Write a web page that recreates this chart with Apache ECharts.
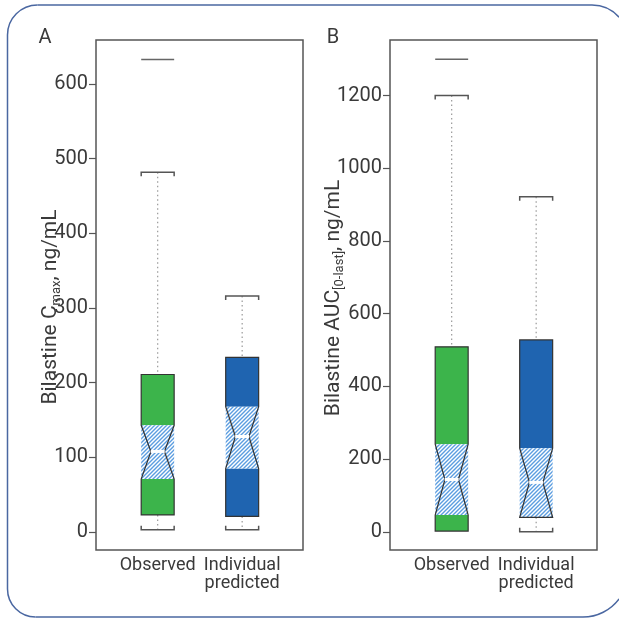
<!DOCTYPE html>
<html>
<head>
<meta charset="utf-8">
<script src="https://cdn.jsdelivr.net/npm/echarts@6/dist/echarts.min.js"></script>
<style>
html, body { margin: 0; padding: 0; background: #fff; overflow: hidden; }
#chart { width: 619px; height: 619px; }
</style>
</head>
<body>
<div id="chart"></div>
<script>
// groups on the x axis (positions 1 and 2)
var groups = ['Observed', 'Individual\npredicted'];
var groupPos = [1, 2];

// box stats: [low whisker, Q1, notch low, median, notch high, Q3, high whisker]
var cmaxObserved  = [3, 23, 71, 108, 143, 211, 482];
var cmaxPredicted = [3, 21, 85, 128, 168, 234, 316];
var cmaxOutliers  = [633];          // observed group only
var cmaxTicks     = [0, 100, 200, 300, 400, 500, 600];

var aucObserved   = [0, 2, 46, 144, 241, 509, 1200];
var aucPredicted  = [0, 40, 40, 136, 230, 528, 922];
var aucOutliers   = [1300];         // observed group only
var aucTicks      = [0, 200, 400, 600, 800, 1000, 1200];

var boxColors = ['#3cb44b', '#1f64b0'];
var textFont = 'Roboto, "DejaVu Sans Condensed", sans-serif';
var textColor = '#3a3a3a';
var frameColor = '#4a67a1';

// diagonal hatch for the notch region
var hatch = document.createElement('canvas');
hatch.width = 4; hatch.height = 4;
(function () {
    var c = hatch.getContext('2d');
    c.fillStyle = '#ffffff';
    c.fillRect(0, 0, 4, 4);
    c.strokeStyle = '#5b9de0';
    c.lineWidth = 1.4;
    c.beginPath();
    c.moveTo(-1, 5); c.lineTo(5, -1);
    c.moveTo(-1, 1); c.lineTo(1, -1);
    c.moveTo(3, 5); c.lineTo(5, 3);
    c.stroke();
})();

function boxRows(a, b) {
    return [[groupPos[0]].concat(a), [groupPos[1]].concat(b)];
}

function renderBox(params, api) {
    var x = api.value(0);
    var v = [];
    for (var i = 1; i <= 7; i++) v.push(api.value(i));
    var cx = api.coord([x, 0])[0];
    var half = api.size([0.39, 0])[0] / 2;
    var ind = api.size([0.115, 0])[0];
    var y = function (val) { return api.coord([x, val])[1]; };
    var L = cx - half, R = cx + half;
    var yLow = y(v[0]), yQ1 = y(v[1]), yNL = y(v[2]), yMed = y(v[3]),
        yNH = y(v[4]), yQ3 = y(v[5]), yHigh = y(v[6]);
    var col = boxColors[params.dataIndex];
    var kids = [];
    var dotted = { stroke: '#999', lineWidth: 1.2, lineDash: [1.5, 3] };
    var capStyle = { stroke: '#555', lineWidth: 1.5, fill: null };

    // upper whisker + cap
    kids.push({ type: 'line', shape: { x1: cx, y1: yHigh, x2: cx, y2: yQ3 }, style: dotted });
    kids.push({ type: 'polyline', shape: { points: [[L, yHigh + 4], [L, yHigh], [R, yHigh], [R, yHigh + 4]] }, style: capStyle });
    // lower whisker + cap
    if (yLow - yQ1 > 2) {
        kids.push({ type: 'line', shape: { x1: cx, y1: yQ1, x2: cx, y2: yLow }, style: dotted });
        kids.push({ type: 'polyline', shape: { points: [[L, yLow - 4], [L, yLow], [R, yLow], [R, yLow - 4]] }, style: capStyle });
    }
    // solid parts of box
    kids.push({ type: 'rect', shape: { x: L, y: yQ3, width: R - L, height: yNH - yQ3 }, style: { fill: col } });
    if (yQ1 - yNL > 0.5) {
        kids.push({ type: 'rect', shape: { x: L, y: yNL, width: R - L, height: yQ1 - yNL }, style: { fill: col } });
    }
    // hatched notch region
    kids.push({ type: 'rect', shape: { x: L, y: yNH, width: R - L, height: yNL - yNH },
        style: { fill: { image: hatch, repeat: 'repeat' } } });
    // notched outline
    kids.push({ type: 'polygon', shape: { points: [
        [L, yQ3], [R, yQ3], [R, yNH], [R - ind, yMed], [R, yNL], [R, yQ1],
        [L, yQ1], [L, yNL], [L + ind, yMed], [L, yNH]
    ] }, style: { fill: null, stroke: '#333', lineWidth: 1.2 } });
    // median
    kids.push({ type: 'line', shape: { x1: cx - 7, y1: yMed, x2: cx + 7, y2: yMed },
        style: { stroke: '#fff', lineWidth: 3 } });
    return { type: 'group', children: kids };
}

function renderOutlier(params, api) {
    var x = api.value(0);
    var p = api.coord([x, api.value(1)]);
    var half = api.size([0.39, 0])[0] / 2;
    return { type: 'line', shape: { x1: p[0] - half, y1: p[1], x2: p[0] + half, y2: p[1] },
        style: { stroke: '#666', lineWidth: 1.5 } };
}

function xAxisFor(gi) {
    return {
        type: 'value', gridIndex: gi, min: 0.27, max: 2.72,
        axisLine: { show: false }, axisTick: { show: false }, splitLine: { show: false },
        axisLabel: {
            customValues: groupPos, margin: 6, fontSize: 18, lineHeight: 18,
            color: textColor, fontFamily: textFont,
            formatter: function (val) { return groups[groupPos.indexOf(val)]; }
        }
    };
}

function yAxisFor(gi, min, max, ticks) {
    return {
        type: 'value', gridIndex: gi, min: min, max: max,
        axisLine: { show: false }, splitLine: { show: false },
        axisTick: { show: true, customValues: ticks, length: 7, lineStyle: { color: '#555', width: 1.2 } },
        axisLabel: { customValues: ticks, margin: 8, fontSize: 20, color: textColor, fontFamily: textFont,
            formatter: function (val) { return String(val); } }
    };
}

// rounded outer frame: lines + corner arcs; the right side is cut off by the page edge
var frameStyle = { fill: null, stroke: frameColor, lineWidth: 1.5 };
var PI = Math.PI;
var frameParts = [
    { type: 'line', shape: { x1: 37.5, y1: 5, x2: 592, y2: 5 } },
    { type: 'line', shape: { x1: 7.5, y1: 35, x2: 7.5, y2: 589 } },
    { type: 'line', shape: { x1: 35.5, y1: 617, x2: 583, y2: 617 } },
    { type: 'arc', shape: { cx: 37.5, cy: 35, r: 30, startAngle: PI, endAngle: 1.5 * PI, clockwise: true } },
    { type: 'arc', shape: { cx: 592, cy: 41, r: 36, startAngle: 1.5 * PI, endAngle: 2 * PI - 0.72, clockwise: true } },
    { type: 'arc', shape: { cx: 583, cy: 572, r: 45, startAngle: 0.64, endAngle: 0.5 * PI, clockwise: true } },
    { type: 'arc', shape: { cx: 35.5, cy: 589, r: 28, startAngle: 0.5 * PI, endAngle: PI, clockwise: true } }
].map(function (p) { p.style = frameStyle; p.z = 100; return p; });

var chart = echarts.init(document.getElementById('chart'));
chart.setOption({
    animation: false,
    backgroundColor: '#fff',
    grid: [
        { left: 96, top: 40, width: 207, height: 510, show: true, borderColor: '#555', borderWidth: 1.5 },
        { left: 390, top: 40, width: 207, height: 510, show: true, borderColor: '#555', borderWidth: 1.5 }
    ],
    xAxis: [xAxisFor(0), xAxisFor(1)],
    yAxis: [yAxisFor(0, -24, 659, cmaxTicks), yAxisFor(1, -50, 1353, aucTicks)],
    series: [
        { type: 'custom', xAxisIndex: 0, yAxisIndex: 0, renderItem: renderBox,
          data: boxRows(cmaxObserved, cmaxPredicted) },
        { type: 'custom', xAxisIndex: 0, yAxisIndex: 0, renderItem: renderOutlier,
          data: cmaxOutliers.map(function (v) { return [groupPos[0], v]; }) },
        { type: 'custom', xAxisIndex: 1, yAxisIndex: 1, renderItem: renderBox,
          data: boxRows(aucObserved, aucPredicted) },
        { type: 'custom', xAxisIndex: 1, yAxisIndex: 1, renderItem: renderOutlier,
          data: aucOutliers.map(function (v) { return [groupPos[0], v]; }) }
    ],
    graphic: frameParts.concat([
        { type: 'text', x: 45, y: 38, style: { text: 'A', fontSize: 20, fill: textColor, fontFamily: textFont,
          align: 'center', verticalAlign: 'middle' } },
        { type: 'text', x: 333, y: 38, style: { text: 'B', fontSize: 20, fill: textColor, fontFamily: textFont,
          align: 'center', verticalAlign: 'middle' } },
        { type: 'text', x: 51, y: 307, rotation: PI / 2,
          style: { text: 'Bilastine C{s|max}, ng/mL', fontSize: 21, lineHeight: 24, fill: textColor,
            fontFamily: textFont, align: 'center', verticalAlign: 'middle',
            rich: { s: { fontSize: 13, lineHeight: 14, verticalAlign: 'bottom', fill: textColor, fontFamily: textFont } } } },
        { type: 'text', x: 334, y: 298, rotation: PI / 2,
          style: { text: 'Bilastine AUC{s|[0-last]}, ng/mL', fontSize: 21, lineHeight: 24, fill: textColor,
            fontFamily: textFont, align: 'center', verticalAlign: 'middle',
            rich: { s: { fontSize: 13, lineHeight: 14, verticalAlign: 'bottom', fill: textColor, fontFamily: textFont } } } }
    ])
});
</script>
</body>
</html>
